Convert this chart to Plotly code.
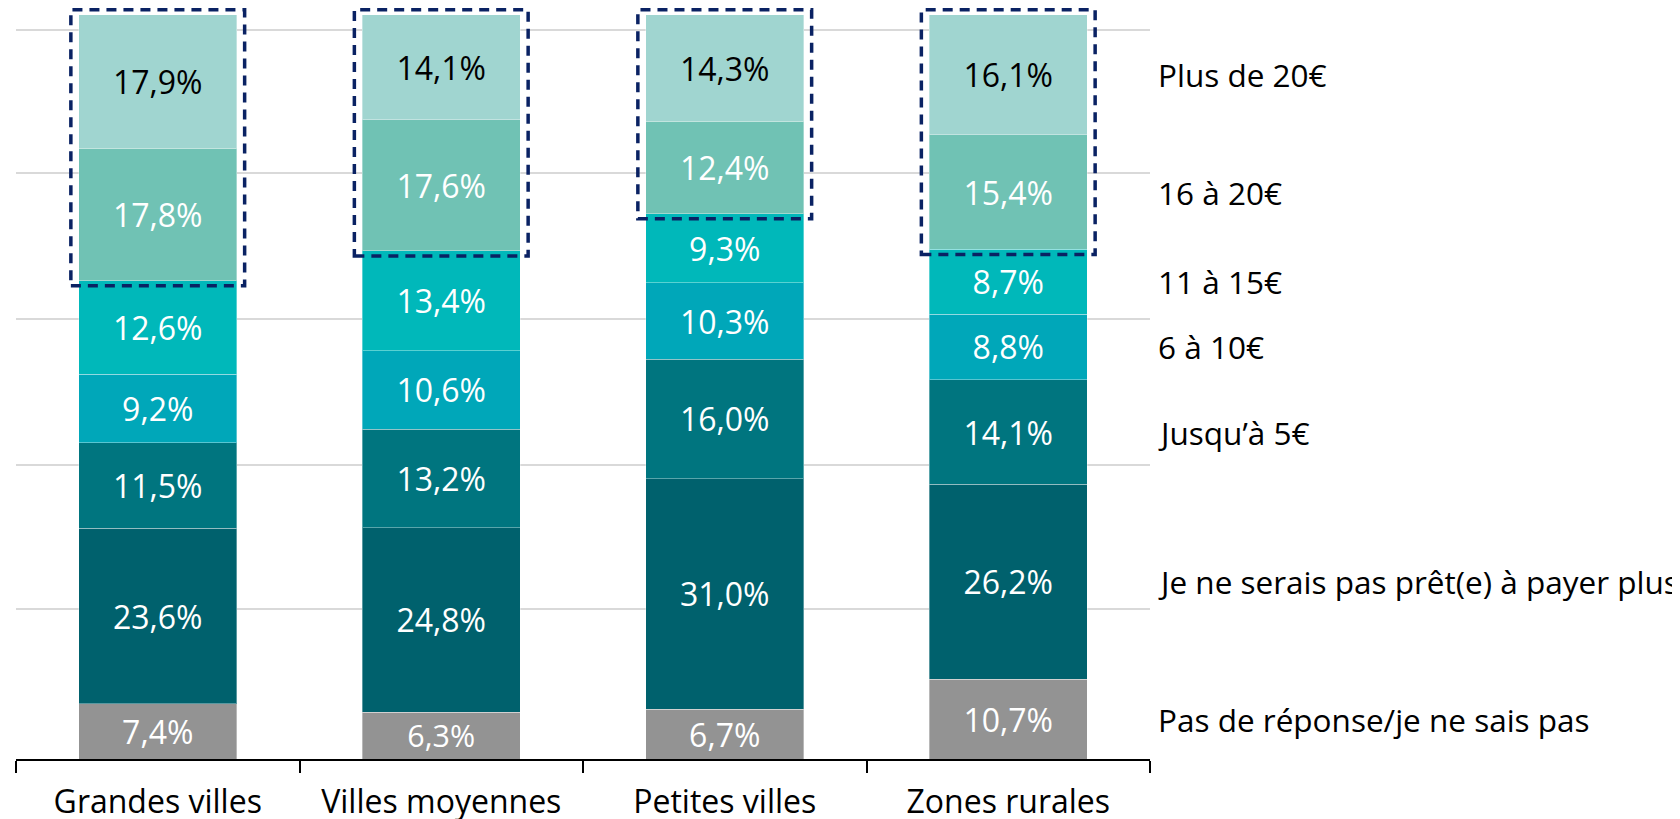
import plotly.graph_objects as go

# ── Data ──────────────────────────────────────────────────────────────────────
categories = ["Grandes villes", "Villes moyennes", "Petites villes", "Zones rurales"]

series_names = [
    "Pas de réponse/je ne sais pas",
    "Je ne serais pas prêt(e) à payer plus",
    "Jusqu’à 5€",
    "6 à 10€",
    "11 à 15€",
    "16 à 20€",
    "Plus de 20€",
]

pas_de_reponse = [7.4, 6.3, 6.7, 10.7]
pas_pret = [23.6, 24.8, 31.0, 26.2]
jusqua_5 = [11.5, 13.2, 16.0, 14.1]
de_6_a_10 = [9.2, 10.6, 10.3, 8.8]
de_11_a_15 = [12.6, 13.4, 9.3, 8.7]
de_16_a_20 = [17.8, 17.6, 12.4, 15.4]
plus_de_20 = [17.9, 14.1, 14.3, 16.1]

series_values = [pas_de_reponse, pas_pret, jusqua_5, de_6_a_10,
                 de_11_a_15, de_16_a_20, plus_de_20]

# gridline levels (in % of the stacked bars)
grid_vals = [20.2, 39.5, 59.1, 78.7, 98.0]

# ── Style ─────────────────────────────────────────────────────────────────────
COLORS = ["#939393", "#00616D", "#00757F", "#00A7B9", "#00B8BA", "#70C2B4", "#A0D5D0"]
TEXT_COLORS = ["white"] * 6 + ["black"]
FONT = "Open Sans, Noto Sans, sans-serif"
FONT_SIZE = 32
LABEL_SIZE = 31.5
BAR_WIDTH = 0.557
BOX_COLOR = "#0A2263"

fig = go.Figure()

for name, vals, color, tcolor in zip(series_names, series_values, COLORS, TEXT_COLORS):
    fig.add_trace(go.Bar(
        name=name,
        x=categories,
        y=vals,
        width=BAR_WIDTH,
        marker=dict(color=color, line=dict(color="rgba(255,255,255,0.35)", width=1)),
        texttemplate="%{y:.1f}%",
        textposition="inside",
        insidetextanchor="middle",
        textangle=0,
        textfont=dict(color=tcolor, size=FONT_SIZE, family=FONT),
        hovertemplate="<b>%{x}</b><br>" + name + ": %{y:.1f}%<extra></extra>",
    ))

# dashed boxes around the two top segments (16 à 20€ + Plus de 20€)
pad_x = 0.028
pad_y = 0.7
for i in range(len(categories)):
    total = sum(s[i] for s in series_values)
    bottom = total - plus_de_20[i] - de_16_a_20[i]
    fig.add_shape(
        type="rect", xref="x", yref="y",
        x0=i - BAR_WIDTH / 2 - pad_x, x1=i + BAR_WIDTH / 2 + pad_x,
        y0=bottom - pad_y, y1=total + pad_y,
        line=dict(color=BOX_COLOR, width=3.5, dash="10px,7px"),
        fillcolor="rgba(0,0,0,0)",
        layer="above",
    )

# series labels on the right, aligned with the last bar's segments
last = len(categories) - 1
cum = 0
for name, vals in zip(series_names, series_values):
    mid = cum + vals[last] / 2
    cum += vals[last]
    fig.add_annotation(
        x=1.005, xref="paper", y=mid, yref="y",
        text=name, showarrow=False, xanchor="left", yanchor="middle",
        font=dict(color="black", size=LABEL_SIZE, family=FONT),
    )

fig.update_layout(
    barmode="stack",
    width=1680,
    height=819,
    separators=", ",
    showlegend=False,
    paper_bgcolor="white",
    plot_bgcolor="white",
    font=dict(family=FONT, size=FONT_SIZE, color="black"),
    margin=dict(l=8, r=538, t=0, b=68.4),
)

fig.update_xaxes(
    type="category",
    showline=True, linecolor="black", linewidth=1.5,
    ticks="outside", tickson="boundaries", ticklen=12, tickwidth=1.5, tickcolor="black",
    ticklabelstandoff=14,
    tickfont=dict(size=FONT_SIZE, color="black", family=FONT),
    showgrid=False,
)

fig.update_yaxes(
    range=[0, 100.94],
    tickvals=grid_vals,
    showticklabels=False,
    showgrid=True, gridcolor="#D9D9D9", gridwidth=1.5,
    zeroline=False,
    showline=False,
)

fig.write_html("out.html")
